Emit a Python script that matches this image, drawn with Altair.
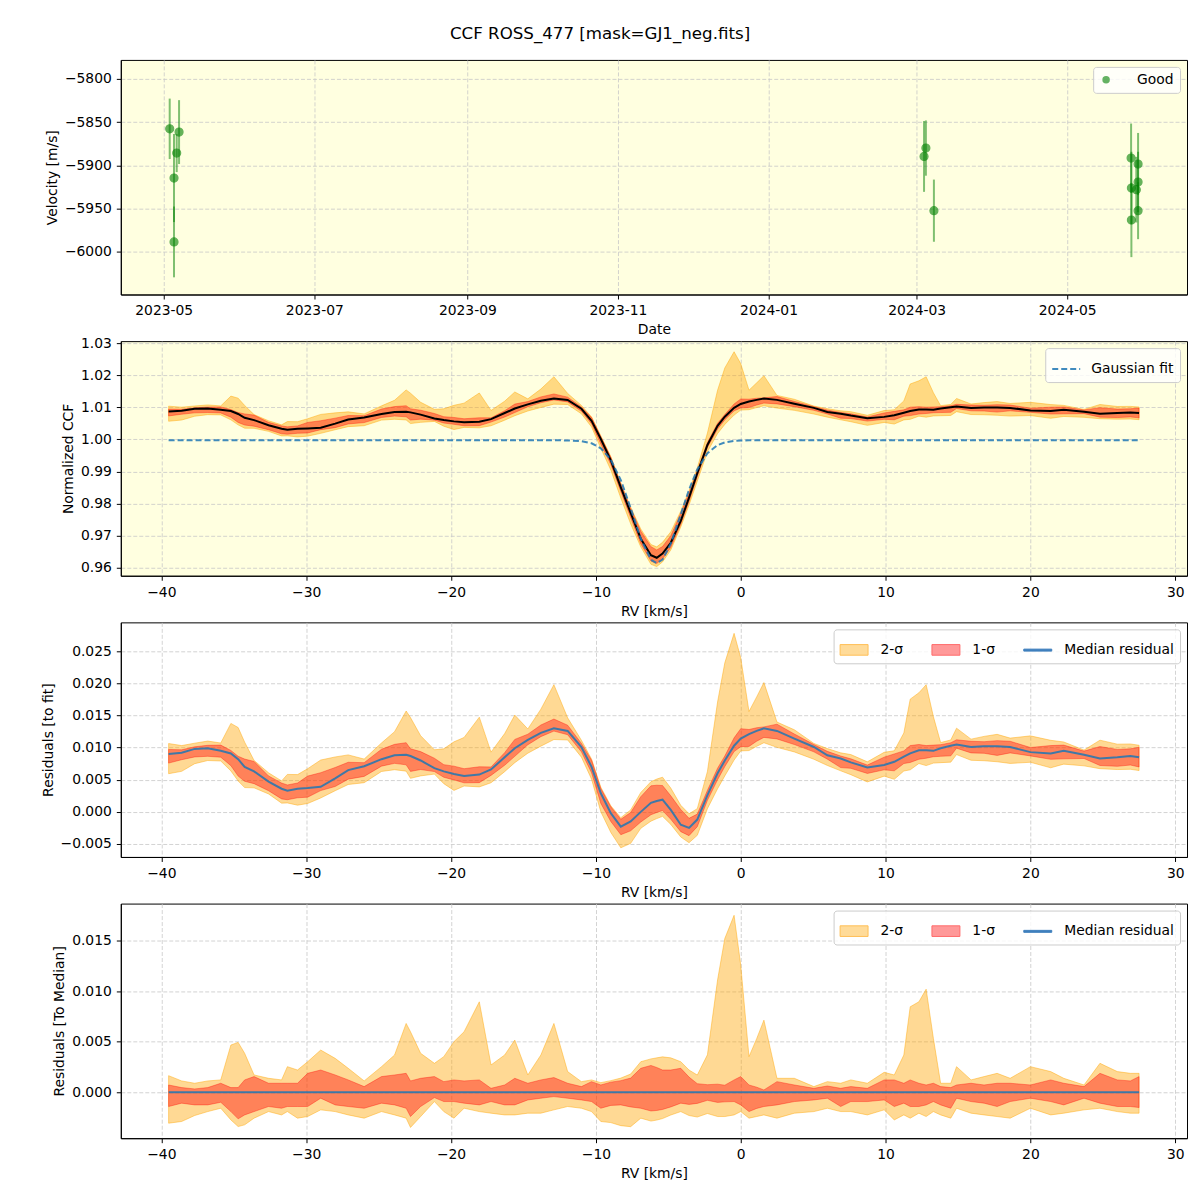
import altair as alt
import pandas as pd

TITLE = "CCF ROSS_477 [mask=GJ1_neg.fits]"
FONT = "DejaVu Sans"
FS = 13.9
W, H = 1068, 235

# ---------------- Panel 1: velocity time series ----------------
obs_time = ["2023-05-03T10:00", "2023-05-07T05:00", "2023-05-06T06:00", "2023-05-05T04:00",
            "2023-05-05T04:00", "2024-03-04T00:00", "2024-03-04T18:00", "2024-03-08T00:00",
            "2024-05-26T21:00", "2024-05-27T00:00", "2024-05-27T00:00", "2024-05-29T17:00",
            "2024-05-29T17:00", "2024-05-29T00:00", "2024-05-29T17:00"]
obs_vel = [-5857.8, -5861.6, -5885.9, -5914.8, -5988.8, -5889.8, -5880.1, -5952.6,
           -5891.7, -5926.4, -5963.4, -5898.6, -5919.4, -5928.3, -5952.6]
obs_err = [35, 37, 22, 51, 41, 41, 32, 36, 40, 42, 43, 36, 35, 38, 33]
date_ticks = ["2023-05-01", "2023-07-01", "2023-09-01", "2023-11-01",
              "2024-01-01", "2024-03-01", "2024-05-01"]
date_domain = ["2023-04-13T14:38", "2024-06-18T12:43"]
vel_ticks = [-6000, -5950, -5900, -5850, -5800]
vel_domain = [-6049.7, -5778.0]

# ---------------- Panels 2-4: CCF profile ----------------
rv = [-39.5, -38.6, -37.7, -36.8, -35.9, -35.2, -34.7, -34.25, -33.6, -32.6,
      -31.7, -31.3, -30.6, -29.9, -29.0, -28.0, -27.1, -26.0, -24.8, -23.9,
      -23.1, -22.8, -22.1, -21.15, -20.5, -19.8, -19.1, -18.05, -17.24, -16.3,
      -15.6, -14.7, -13.8, -12.9, -11.95, -11.0, -10.3, -9.66, -8.97, -8.28,
      -7.6, -6.9, -6.2, -5.8, -5.4, -4.83, -4.14, -3.57, -3.0, -2.3, -1.6,
      -1.1, -0.46, 0.0, 0.57, 1.1, 1.6, 2.5, 3.7, 5.05, 5.98,
      6.9, 7.6, 8.74, 9.9, 10.6, 11.26, 11.7, 12.3, 12.8, 13.3,
      13.8, 14.5, 14.9, 15.9, 16.8, 17.7, 18.6, 20.0, 21.4, 22.3,
      23.7, 24.8, 26.0, 26.9, 27.5]

# median residual to the Gaussian fit (units of 1e-4)
resid_e4 = [90, 92, 98, 99, 95, 91, 82, 70, 63, 47,
            36, 33, 36, 37, 39, 52, 65, 71, 82, 88,
            89, 87, 80, 68, 63, 59, 56, 58, 66, 85,
            99, 112, 123, 130, 126, 101, 70, 29, -2, -23,
            -15, 0, 14, 17, 19, 3, -20, -25, -12, 26, 60,
            80, 103, 114, 121, 126, 130, 126, 114, 101, 88,
            83, 77, 69, 73, 78, 86, 91, 96, 96, 95,
            99, 103, 105, 101, 102, 102, 101, 93, 91, 95,
            89, 83, 85, 87, 85]

# band edges relative to the median (units of 1e-4)
d2hi_e4 = [16.4, 11.2, 8.9, 11.2, 12.2, 46.7, 49.3, 38.5, 17.1, 13.8,
           12.2, 25.3, 22.0, 30.2, 41.7, 33.5, 23.7, 11.2, 25.3, 36.8,
           68.0, 59.8, 38.5, 28.6, 35.2, 50.0, 59.8, 89.4, 27.0, 36.8,
           51.6, 17.1, 36.8, 68.0, 20.4, 10.5, 12.2, 9.5, 11.5, 14.0,
           18.0, 30.2, 33.0, 34.0, 35.0, 34.0, 30.2, 22.0, 17.0, 37.0, 111.0,
           152.0, 174.9, 125.6, 35.2, 53.0, 71.3, 13.8, 13.8, 5.6, 10.5,
           8.9, 12.2, 8.9, 19.7, 17.1, 36.8, 84.5, 89.4, 101.9, 53.3,
           8.9, 8.9, 25.3, 12.2, 15.5, 18.7, 13.8, 25.3, 20.4, 13.8,
           7.2, 28.6, 20.4, 18.7, 18.7]
d1hi_e4 = [7.2, 4.6, 3.3, 4.6, 8.9, 4.6, 4.6, 12.2, 15.5, 8.9,
           8.9, 8.9, 8.9, 18.7, 22.0, 17.1, 12.2, 5.6, 15.5, 17.1,
           18.7, 11.2, 13.8, 15.5, 10.5, 12.2, 11.2, 12.2, 3.9, 7.2,
           13.8, 8.9, 12.2, 14.5, 8.9, 5.6, 10.5, 7.2, 10.0, 11.5,
           14.0, 23.7, 26.5, 24.5, 22.0, 22.0, 23.7, 15.0, 8.5, 7.5, 8.0,
           7.0, 12.2, 15.5, 7.2, 5.0, 2.3, 10.5, 7.2, 3.9, 6.2,
           3.9, 5.6, 3.9, 12.2, 12.2, 8.9, 12.2, 8.9, 7.2, 8.9,
           5.6, 4.6, 7.2, 8.9, 7.2, 8.9, 8.9, 7.2, 12.2, 8.9,
           5.6, 18.7, 12.2, 11.2, 15.5]
d1lo_e4 = [-14.1, -10.8, -12.5, -12.5, -9.9, -19.1, -26.3, -22.4, -19.1, -14.1,
           -15.8, -14.1, -14.1, -14.1, -5.9, -12.5, -14.1, -15.8, -10.8, -12.5,
           -15.8, -24.0, -14.1, -5.3, -9.2, -9.2, -10.8, -12.5, -9.2, -12.5,
           -12.5, -7.6, -5.9, -4.3, -5.9, -7.6, -9.2, -15.8, -13.0, -12.5,
           -14.5, -15.8, -18.5, -18.0, -17.0, -14.5, -10.8, -12.0, -11.0, -8.0, -10.0,
           -9.5, -9.2, -12.5, -19.1, -16.0, -14.1, -12.5, -9.2, -7.6, -5.9,
           -14.1, -9.2, -9.2, -7.6, -14.1, -10.8, -14.1, -14.1, -12.5, -9.2,
           -12.5, -15.8, -5.9, -9.2, -10.8, -14.1, -9.2, -5.9, -9.2, -12.5,
           -5.9, -10.8, -14.1, -14.1, -15.1]
d2lo_e4 = [-30.6, -28.9, -23.0, -19.1, -15.8, -27.3, -33.9, -32.2, -25.6, -19.1,
           -22.4, -19.1, -25.6, -24.0, -17.4, -19.1, -22.4, -25.6, -19.1, -22.4,
           -25.6, -34.8, -24.0, -9.2, -19.1, -25.6, -15.8, -19.1, -20.7, -22.4,
           -22.4, -20.7, -20.7, -17.4, -14.1, -15.8, -19.1, -28.9, -30.0, -33.0,
           -34.0, -25.6, -28.5, -27.5, -26.0, -22.5, -19.1, -23.0, -24.5, -21.0, -24.0,
           -24.0, -22.4, -19.1, -25.6, -24.0, -22.4, -25.6, -20.7, -19.1, -15.8,
           -19.1, -19.1, -22.4, -17.4, -27.3, -22.4, -25.6, -20.7, -24.0, -19.1,
           -22.4, -25.6, -15.8, -20.7, -22.4, -24.0, -25.6, -15.8, -22.4, -20.7,
           -17.4, -15.8, -19.1, -20.7, -20.7]

# Gaussian fit
gauss = [0.9997, 0.9997, 0.9997, 0.9997, 0.9997, 0.9997, 0.9997, 0.9997, 0.9997, 0.9997,
         0.9997, 0.9997, 0.9997, 0.9997, 0.9997, 0.9997, 0.9997, 0.9997, 0.9997, 0.9997,
         0.9997, 0.9997, 0.9997, 0.9997, 0.9997, 0.9997, 0.9997, 0.9997, 0.9997, 0.9997,
         0.9997, 0.9997, 0.9997, 0.9997, 0.99966, 0.99943, 0.99877, 0.99722, 0.99365, 0.98732,
         0.97857, 0.96903, 0.96251, 0.9614, 0.96251, 0.96748, 0.97661, 0.98433, 0.99063, 0.99566, 0.9982,
         0.99904, 0.9995, 0.99962, 0.9997, 0.9997, 0.9997, 0.9997, 0.9997, 0.9997, 0.9997,
         0.9997, 0.9997, 0.9997, 0.9997, 0.9997, 0.9997, 0.9997, 0.9997, 0.9997, 0.9997,
         0.9997, 0.9997, 0.9997, 0.9997, 0.9997, 0.9997, 0.9997, 0.9997, 0.9997, 0.9997,
         0.9997, 0.9997, 0.9997, 0.9997, 0.9997]

rv_ticks = [-40, -30, -20, -10, 0, 10, 20, 30]
rv_domain = [-42.8, 30.81]
ccf_ticks = [0.96, 0.97, 0.98, 0.99, 1.00, 1.01, 1.02, 1.03]
ccf_domain = [0.9575, 1.0306]
res_ticks = [-0.005, 0.0, 0.005, 0.010, 0.015, 0.020, 0.025]
res_domain = [-0.00702, 0.0295]
med_ticks = [0.0, 0.005, 0.010, 0.015]
med_domain = [-0.00454, 0.01865]

SER = ["2-σ", "1-σ", "Median residual"]

# ---------------- data frames ----------------
def ms(s):
    return int(pd.Timestamp(s, tz="UTC").value // 10**6)

df1 = pd.DataFrame({"t": [ms(s) for s in obs_time], "vel": obs_vel, "err": obs_err})
df1["lo"] = df1["vel"] - df1["err"]
df1["hi"] = df1["vel"] + df1["err"]
df1["status"] = "Good"

df = pd.DataFrame({"rv": rv, "resid": [v / 1e4 for v in resid_e4], "gauss": gauss,
                   "d2hi": [v / 1e4 for v in d2hi_e4], "d1hi": [v / 1e4 for v in d1hi_e4],
                   "d1lo": [v / 1e4 for v in d1lo_e4], "d2lo": [v / 1e4 for v in d2lo_e4]})
df["ccf"] = df["resid"] + df["gauss"]
for c in ["d2hi", "d1hi", "d1lo", "d2lo"]:
    df["ccf_" + c] = df["ccf"] + df[c]
    df["res_" + c] = df["resid"] + df[c]
df["zero"] = 0.0

leg_df = pd.DataFrame({"series": SER})


def leg(**kw):
    base = dict(title=None, orient="top-right", offset=7,
                fillColor="rgba(255,255,255,0.8)", strokeColor="#cccccc",
                cornerRadius=3, padding=6, labelFont=FONT, labelFontSize=FS,
                labelColor="black")
    base.update(kw)
    return alt.Legend(**base)


# ---------------- Panel 1 ----------------
x_date = alt.X("t:T", title="Date",
               scale=alt.Scale(type="utc", domain=[ms(d) for d in date_domain], nice=False),
               axis=alt.Axis(values=[ms(d) for d in date_ticks], format="%Y-%m"))


def y_vel(field):
    return alt.Y(field, title="Velocity [m/s]",
                 scale=alt.Scale(domain=vel_domain, nice=False, zero=False),
                 axis=alt.Axis(values=vel_ticks, format="d"))


errbars = alt.Chart(df1).mark_rule(color="green", opacity=0.5, strokeWidth=2).encode(
    x=x_date, y=y_vel("lo:Q"), y2="hi:Q")
points = alt.Chart(df1).mark_circle(size=64, opacity=0.6, stroke="green", strokeWidth=1.2).encode(
    x=x_date, y=y_vel("vel:Q"),
    color=alt.Color("status:N", scale=alt.Scale(domain=["Good"], range=["green"]),
                    legend=leg(symbolSize=36, labelOffset=24)))
p1 = alt.layer(errbars, points).properties(width=W, height=H)

# ---------------- helpers for RV panels ----------------
x_rv = alt.X("rv:Q", title="RV [km/s]",
             scale=alt.Scale(domain=rv_domain, nice=False, zero=False),
             axis=alt.Axis(values=rv_ticks, format="d"))


def yq(field, title, domain, ticks, fmt):
    return alt.Y(field, title=title, scale=alt.Scale(domain=domain, nice=False, zero=False),
                 axis=alt.Axis(values=ticks, format=fmt))


def bands(prefix, title, domain, ticks, fmt):
    a2 = alt.Chart(df).mark_area(fill="#ffa500", fillOpacity=0.42, stroke="#ffa500",
                                 strokeOpacity=0.45, strokeWidth=1).encode(
        x=x_rv, y=yq(prefix + "d2lo:Q", title, domain, ticks, fmt), y2=prefix + "d2hi:Q")
    a1 = alt.Chart(df).mark_area(fill="red", fillOpacity=0.4, stroke="red",
                                 strokeOpacity=0.35, strokeWidth=1).encode(
        x=x_rv, y=yq(prefix + "d1lo:Q", title, domain, ticks, fmt), y2=prefix + "d1hi:Q")
    return a2, a1


PATCH = "M-1,-0.38H1V0.38H-1Z"
LINE = "M-1,-0.07H1V0.07H-1Z"


def legend_layer():
    lg = leg(direction="horizontal", symbolSize=784, labelOffset=12, columnPadding=26,
             symbolOpacity=1, symbolStrokeWidth=1)
    return alt.Chart(leg_df).mark_point(filled=True, opacity=0).encode(
        fill=alt.Fill("series:N", scale=alt.Scale(domain=SER, range=["#ffdb99", "#ff9999", "#3f80bd"]),
                      legend=lg),
        stroke=alt.Stroke("series:N", scale=alt.Scale(domain=SER, range=["#ffbf55", "#ff6a6a", "#3f80bd"]),
                          legend=lg),
        shape=alt.Shape("series:N", scale=alt.Scale(domain=SER, range=[PATCH, PATCH, LINE]),
                        legend=lg))


# ---------------- Panel 2 ----------------
t2 = "Normalized CCF"
a2, a1 = bands("ccf_", t2, ccf_domain, ccf_ticks, ".2f")
ccf_line = alt.Chart(df).mark_line(color="black", strokeWidth=2).encode(
    x=x_rv, y=yq("ccf:Q", t2, ccf_domain, ccf_ticks, ".2f"))
gfit = alt.Chart(df).transform_calculate(series="'Gaussian fit'").mark_line(
    strokeDash=[6, 3], strokeWidth=2, opacity=0.85).encode(
    x=x_rv, y=yq("gauss:Q", t2, ccf_domain, ccf_ticks, ".2f"),
    color=alt.Color("series:N", scale=alt.Scale(domain=["Gaussian fit"], range=["#1f77b4"]),
                    legend=leg(symbolType="stroke", symbolSize=784, symbolStrokeWidth=2,
                               symbolDash=[6, 3], labelOffset=10)))
p2 = alt.layer(a2, a1, ccf_line, gfit).properties(width=W, height=H)

# ---------------- Panel 3 ----------------
t3 = "Residuals [to fit]"
b2, b1 = bands("res_", t3, res_domain, res_ticks, ".3f")
res_line = alt.Chart(df).mark_line(color="#1f77b4", opacity=0.85, strokeWidth=2).encode(
    x=x_rv, y=yq("resid:Q", t3, res_domain, res_ticks, ".3f"))
p3 = alt.layer(b2, b1, res_line, legend_layer()).properties(width=W, height=H)

# ---------------- Panel 4 ----------------
t4 = "Residuals [To Median]"
c2 = alt.Chart(df).mark_area(fill="#ffa500", fillOpacity=0.42, stroke="#ffa500",
                             strokeOpacity=0.45, strokeWidth=1).encode(
    x=x_rv, y=yq("d2lo:Q", t4, med_domain, med_ticks, ".3f"), y2="d2hi:Q")
c1 = alt.Chart(df).mark_area(fill="red", fillOpacity=0.4, stroke="red",
                             strokeOpacity=0.35, strokeWidth=1).encode(
    x=x_rv, y=yq("d1lo:Q", t4, med_domain, med_ticks, ".3f"), y2="d1hi:Q")
zero_line = alt.Chart(df).mark_line(color="#1f77b4", opacity=0.85, strokeWidth=2).encode(
    x=x_rv, y=yq("zero:Q", t4, med_domain, med_ticks, ".3f"))
p4 = alt.layer(c2, c1, zero_line, legend_layer()).properties(width=W, height=H)

chart = alt.vconcat(p1, p2, p3, p4, spacing=46.7, bounds="flush").resolve_scale(
    color="independent", fill="independent", stroke="independent", shape="independent"
).resolve_legend(
    color="independent", fill="independent", stroke="independent", shape="independent"
).properties(
    title=alt.TitleParams(TITLE, anchor="middle", fontSize=16.7, font=FONT,
                          fontWeight="normal", color="black", offset=17, dx=-14),
    padding={"left": 32, "top": 16, "right": 4, "bottom": 8},
    background="white",
).configure_view(
    fill="#ffffe0", stroke="black", strokeWidth=1
).configure_axis(
    labelFont=FONT, titleFont=FONT, labelFontSize=FS, titleFontSize=FS,
    titleFontWeight="normal", labelColor="black", titleColor="black",
    tickColor="black", domainColor="black", tickSize=4.5, labelPadding=5,
    titlePadding=5, gridColor="#c8c8c8", gridDash=[4, 2], gridWidth=0.8,
    domainWidth=1, tickWidth=1
)

chart.save("out.html", embed_options={"renderer": "svg", "actions": False})
